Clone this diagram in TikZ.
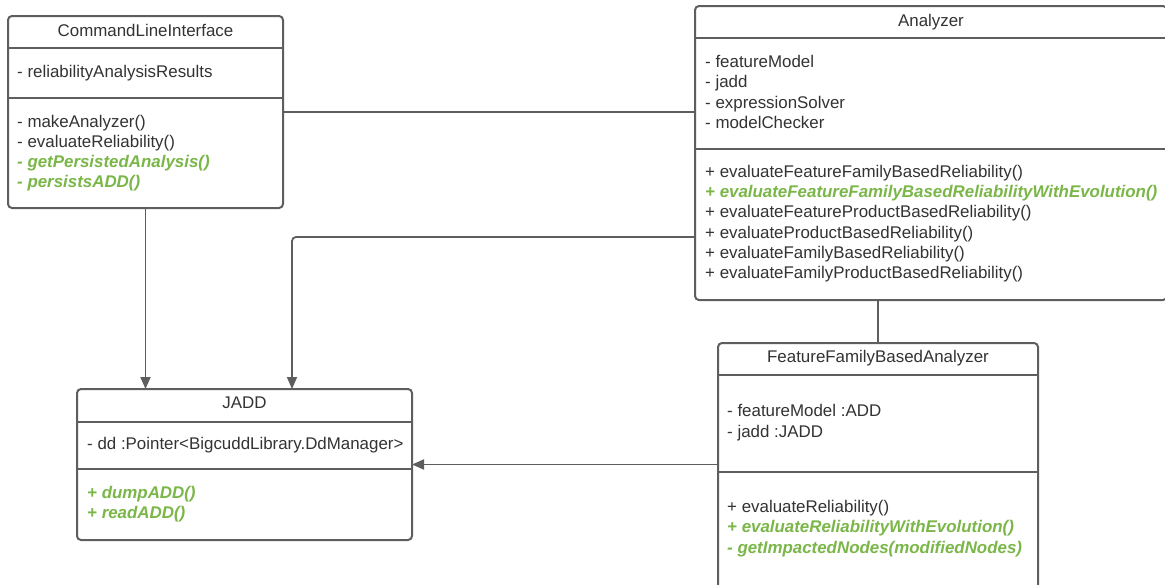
\documentclass[tikz,border=0pt]{standalone}
\usepackage{fontspec}
\setmainfont{Liberation Sans}
\usetikzlibrary{arrows.meta}
\definecolor{linegray}{HTML}{5E5E5E}
\definecolor{txtgray}{HTML}{333333}
\definecolor{addgreen}{HTML}{7AB648}

\begin{document}
\begin{tikzpicture}[x=1pt,y=-1pt,
  classbox/.style={draw=linegray, line width=2pt, rounded corners=4pt, fill=white,
    anchor=north west, inner sep=0pt, outer sep=0pt},
  divider/.style={draw=linegray, line width=2pt},
  conn/.style={draw=linegray, line width=1.8pt},
  arr/.style={conn, -{Triangle[length=12pt,width=10pt]}},
  title/.style={anchor=base, text=txtgray, inner sep=0pt, font=\fontsize{16.9}{20}\selectfont},
  member/.style={anchor=base west, text=txtgray, inner sep=0pt, font=\fontsize{16.9}{20}\selectfont},
  newmember/.style={member, text=addgreen, font=\fontsize{16.9}{20}\selectfont\bfseries\itshape}]

\useasboundingbox (0,0) rectangle (1165,584);
\clip (0,0) rectangle (1165,584);

% ---- class boxes ----
\node[classbox, minimum width=275pt, minimum height=192pt] (cli)  at (8,16)   {};
\node[classbox, minimum width=472pt, minimum height=294pt] (ana)  at (695,6)  {};
\node[classbox, minimum width=320pt, minimum height=260pt] (ffba) at (718,343) {};
\node[classbox, minimum width=335pt, minimum height=151pt] (jadd) at (77,389)  {};

% ---- compartment dividers ----
\draw[divider] (8,48)   -- (283,48);
\draw[divider] (8,98)   -- (283,98);
\draw[divider] (695,38) -- (1167,38);
\draw[divider] (695,149) -- (1167,149);
\draw[divider] (718,375) -- (1038,375);
\draw[divider] (718,472) -- (1038,472);
\draw[divider] (77,422) -- (412,422);
\draw[divider] (77,469) -- (412,469);

% ---- CommandLineInterface ----
\node[title] (clititle) at (145.5,36) {CommandLineInterface};
\node[member] (clia1) at (17,77)  {- reliabilityAnalysisResults};
\node[member] (clim1) at (17,127) {- makeAnalyzer()};
\node[member] (clim2) at (17,147) {- evaluateReliability()};
\node[newmember] (clim3) at (17,167) {- getPersistedAnalysis()};
\node[newmember] (clim4) at (17,187) {- persistsADD()};

% ---- Analyzer ----
\node[title] (anatitle) at (931,26) {Analyzer};
\node[member] (anaa1) at (705,67)  {- featureModel};
\node[member] (anaa2) at (705,87.5) {- jadd};
\node[member] (anaa3) at (705,108) {- expressionSolver};
\node[member] (anaa4) at (705,128) {- modelChecker};
\node[member] (anam1) at (705,177) {+ evaluateFeatureFamilyBasedReliability()};
\node[newmember] (anam2) at (705,197) {+ evaluateFeatureFamilyBasedReliabilityWithEvolution()};
\node[member] (anam3) at (705,217.5) {+ evaluateFeatureProductBasedReliability()};
\node[member] (anam4) at (705,238) {+ evaluateProductBasedReliability()};
\node[member] (anam5) at (705,258) {+ evaluateFamilyBasedReliability()};
\node[member] (anam6) at (705,278) {+ evaluateFamilyProductBasedReliability()};

% ---- FeatureFamilyBasedAnalyzer ----
\node[title] (ffbatitle) at (878,362) {FeatureFamilyBasedAnalyzer};
\node[member] (ffbaa1) at (727,416) {- featureModel :ADD};
\node[member] (ffbaa2) at (727,437) {- jadd :JADD};
\node[member] (ffbam1) at (727,512) {+ evaluateReliability()};
\node[newmember] (ffbam2) at (727,532) {+ evaluateReliabilityWithEvolution()};
\node[newmember] (ffbam3) at (727,553) {- getImpactedNodes(modifiedNodes)};

% ---- JADD ----
\node[title] (jaddtitle) at (244.5,408) {JADD};
\node[member] (jadda1) at (87,449) {- dd :Pointer<BigcuddLibrary.DdManager>};
\node[newmember] (jaddm1) at (87,498) {+ dumpADD()};
\node[newmember] (jaddm2) at (87,518) {+ readADD()};

% ---- connectors ----
\draw[conn] (cli.east) -- (cli.east -| ana.west);
\draw[arr] (cli.south) -- (cli.south |- jadd.north);
\draw[arr, rounded corners=4pt] ([yshift=-84pt]ana.west) -| ([xshift=47.5pt]jadd.north);
\draw[conn] (ffba.north) -- (ffba.north |- ana.south);
\draw[arr] (jadd.east -| ffba.west) -- (jadd.east);

\end{tikzpicture}
\end{document}
